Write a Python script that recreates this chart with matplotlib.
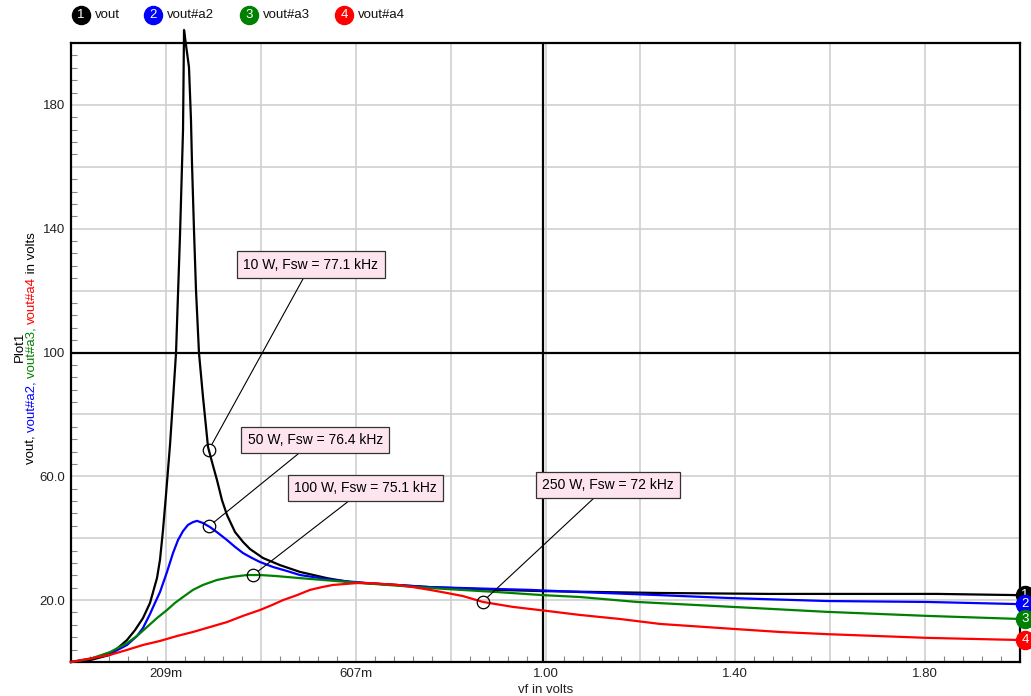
# Output voltage vs. feedback voltage for four load levels

import matplotlib.pyplot as plt
import matplotlib.transforms as mtransforms
import numpy as np

plt.rcParams["font.family"] = ["Liberation Sans", "DejaVu Sans"]

# Traces (vf in volts, vout in volts)
vf_1 = [0.01, 0.0498, 0.0918, 0.1274, 0.1442, 0.161, 0.1757, 0.1903, 0.1966, 0.2029,
        0.2092, 0.2176, 0.2239, 0.2302, 0.2386, 0.2449, 0.247, 0.2511, 0.2574, 0.2616,
        0.2637, 0.2679, 0.2721, 0.2784, 0.2868, 0.2973, 0.3057, 0.3161, 0.3266, 0.3371,
        0.3539, 0.3707, 0.3853, 0.4126, 0.4483, 0.4902, 0.5468, 0.595, 0.6579, 0.7628,
        0.9033, 1.0, 1.2451, 1.4757, 1.8259, 2.0]
vout_1 = [0.0, 0.6, 2.3, 7.1, 10.3, 14.2, 19.1, 27.1, 33.0, 42.6,
          54.0, 70.1, 84.7, 99.8, 138.0, 171.9, 204.2, 199.4, 192.2, 175.1,
          161.2, 139.6, 120.2, 99.8, 85.6, 69.5, 64.6, 58.8, 52.3, 47.5,
          42.0, 38.8, 36.5, 33.6, 31.3, 29.1, 27.1, 25.8, 25.2, 24.2,
          23.3, 22.9, 22.3, 22.0, 22.0, 21.6]

vf_2 = [0.01, 0.0498, 0.0918, 0.1274, 0.1484, 0.161, 0.1757, 0.1861, 0.1966, 0.2113,
        0.2239, 0.2344, 0.2449, 0.2553, 0.2658, 0.2742, 0.2868, 0.3015, 0.3182, 0.3371,
        0.3539, 0.3707, 0.3895, 0.4063, 0.4336, 0.4629, 0.4902, 0.5594, 0.6307, 0.7628,
        0.9725, 1.0773, 1.2451, 1.3856, 1.5953, 1.8049, 2.0]
vout_2 = [0.0, 1.0, 2.6, 5.5, 8.4, 11.0, 15.5, 19.1, 22.6, 29.1,
          35.2, 39.4, 42.3, 44.3, 45.2, 45.6, 44.9, 43.6, 41.7, 39.4,
          37.2, 35.2, 33.6, 32.3, 30.7, 29.4, 28.1, 26.5, 25.5, 24.2,
          23.3, 22.6, 21.6, 20.7, 19.7, 19.4, 18.7]

vf_3 = [0.01, 0.0498, 0.0918, 0.1274, 0.1484, 0.1694, 0.1903, 0.2113, 0.2281, 0.2449,
        0.2658, 0.2868, 0.3161, 0.3476, 0.379, 0.4063, 0.4378, 0.4902, 0.595, 0.6999,
        0.7628, 0.9033, 1.0, 1.0773, 1.1968, 1.3981, 1.5953, 1.8049, 2.0]
vout_3 = [0.0, 1.0, 3.2, 6.1, 8.4, 11.3, 14.2, 16.8, 19.1, 21.0,
          23.3, 24.9, 26.5, 27.5, 28.1, 28.1, 27.8, 27.1, 25.8, 24.6,
          23.9, 22.6, 21.6, 21.0, 19.4, 17.8, 16.2, 14.9, 13.9]

vf_4 = [0.01, 0.0561, 0.0918, 0.1274, 0.161, 0.1966, 0.2323, 0.2658, 0.3015, 0.3371,
        0.3707, 0.4063, 0.4315, 0.4545, 0.4839, 0.5112, 0.5363, 0.5594, 0.5845, 0.6097,
        0.637, 0.6644, 0.6957, 0.7272, 0.7628, 0.7984, 0.832, 0.8739, 0.9368, 1.0081,
        1.0773, 1.1612, 1.2451, 1.3981, 1.4967, 1.5953, 1.7001, 1.8049, 2.0]
vout_4 = [0.0, 1.3, 2.3, 3.9, 5.5, 6.8, 8.4, 9.7, 11.3, 12.9,
          14.9, 16.8, 18.4, 20.0, 21.6, 23.3, 24.2, 24.9, 25.2, 25.5,
          25.5, 25.2, 24.9, 24.2, 23.3, 22.3, 21.3, 19.4, 17.8, 16.5,
          15.2, 13.9, 12.3, 10.7, 9.7, 9.0, 8.4, 7.8, 7.1]

names = ["vout", "vout#a2", "vout#a3", "vout#a4"]
colors = ["black", "#0000ff", "#008000", "#ff0000"]

# Operating point notes: trace index, vf of the marker, text, box centre
note_trace = [0, 1, 2, 3]
note_vf = [0.299, 0.299, 0.392, 0.873]
note_text = ["10 W, Fsw = 77.1 kHz", "50 W, Fsw = 76.4 kHz",
             "100 W, Fsw = 75.1 kHz", "250 W, Fsw = 72 kHz"]
note_box = [(0.513, 128.4), (0.522, 71.7), (0.6275, 56.2), (1.136, 57.2)]

# Axis ticks
x_lo, x_hi = 0.01, 2.0
x_grid = np.linspace(x_lo, x_hi, 11)
x_labels = ["", "209m", "", "607m", "", "1.00", "", "1.40", "", "1.80", ""]
y_grid = np.arange(0, 201, 20)
y_labels = ["", "20.0", "", "60.0", "", "100", "", "140", "", "180", ""]

traces = [(vf_1, vout_1), (vf_2, vout_2), (vf_3, vout_3), (vf_4, vout_4)]

W, H = 1031, 696
fig = plt.figure(figsize=(W / 100, H / 100), dpi=100)
ax = fig.add_axes([71 / W, 1 - 662 / H, (1020 - 71) / W, (662 - 43) / H])

ax.set_xlim(x_lo, x_hi)
ax.set_ylim(0, 200)
ax.set_xticks(x_grid)
ax.set_xticklabels(x_labels)
ax.set_yticks(y_grid)
ax.set_yticklabels(y_labels)
ax.set_xticks(np.linspace(x_lo, x_hi, 51), minor=True)
ax.set_yticks(np.arange(0, 201, 4), minor=True)
ax.tick_params(which="major", length=0, labelsize=9.5, labelcolor="#222222", pad=4)
ax.tick_params(which="minor", direction="in", length=4, color="#888888", width=0.8)
ax.grid(True, which="major", color="#cfcfcf", lw=1.2, zorder=1)
ax.axvline(1.0, color="black", lw=1.6, zorder=2.2)
ax.axhline(100, color="black", lw=1.6, zorder=2.2)
for s in ax.spines.values():
    s.set_linewidth(1.6)

for (x, y), c in zip(traces, colors):
    ax.plot(x, y, color=c, lw=1.6, clip_on=False, zorder=3)

# notes with leader lines
for i, vf, txt, box in zip(note_trace, note_vf, note_text, note_box):
    x, y = traces[i]
    v = np.interp(vf, x, y)
    ax.plot(vf, v, "o", mfc="none", mec="black", ms=9, mew=0.9, zorder=5)
    ax.annotate(txt, xy=(vf, v), xytext=box, ha="center", va="center",
                fontsize=10, zorder=6,
                bbox=dict(boxstyle="square,pad=0.45", fc="#fde4ee", ec="#333333", lw=0.9),
                arrowprops=dict(arrowstyle="-", color="black", lw=0.8,
                                shrinkA=0, shrinkB=4.5))

# numbered end markers on the right edge
edge = mtransforms.offset_copy(ax.transData, fig=fig, x=5, y=0, units="dots")
for k, ((x, y), c) in enumerate(zip(traces, colors)):
    ax.plot(x[-1], y[-1], "o", color=c, ms=13, transform=edge, clip_on=False, zorder=7 + k)
    ax.text(x[-1], y[-1], str(k + 1), color="white", fontsize=9.5, ha="center",
            va="center", transform=edge, clip_on=False, zorder=7 + k)

ax.set_xlabel("vf in volts", fontsize=9.5, color="#222222", labelpad=3)

# legend row along the top
lay = fig.add_axes([0, 0, 1, 1], zorder=5)
lay.set_xlim(0, W)
lay.set_ylim(H, 0)
lay.axis("off")
leg_x = [81, 153, 249, 344]
for k, (n, c) in enumerate(zip(names, colors)):
    lay.plot(leg_x[k], 15, "o", color=c, ms=13)
    lay.text(leg_x[k], 15.5, str(k + 1), color="white", fontsize=9.5, ha="center", va="center")
    lay.text(leg_x[k] + 14, 15, n, fontsize=9.5, ha="left", va="center", color="#111111")

# multi-coloured y axis title
lay.text(20, 347, "Plot1", rotation=90, fontsize=9.5, ha="center", va="center")
parts = [("vout, ", "black"), ("vout#a2, ", colors[1]), ("vout#a3, ", colors[2]),
         ("vout#a4", colors[3]), (" in volts", "black")]
fig.canvas.draw()
r = fig.canvas.get_renderer()
arts = [lay.text(0, 0, p, rotation=90, fontsize=9.5, color=c, ha="center", va="bottom")
        for p, c in parts]
heights = [a.get_window_extent(r).height for a in arts]
y_pix = 348 + sum(heights) / 2
for a, h in zip(arts, heights):
    a.set_position((32, y_pix))
    y_pix -= h

fig.savefig("out.png", dpi=100)
